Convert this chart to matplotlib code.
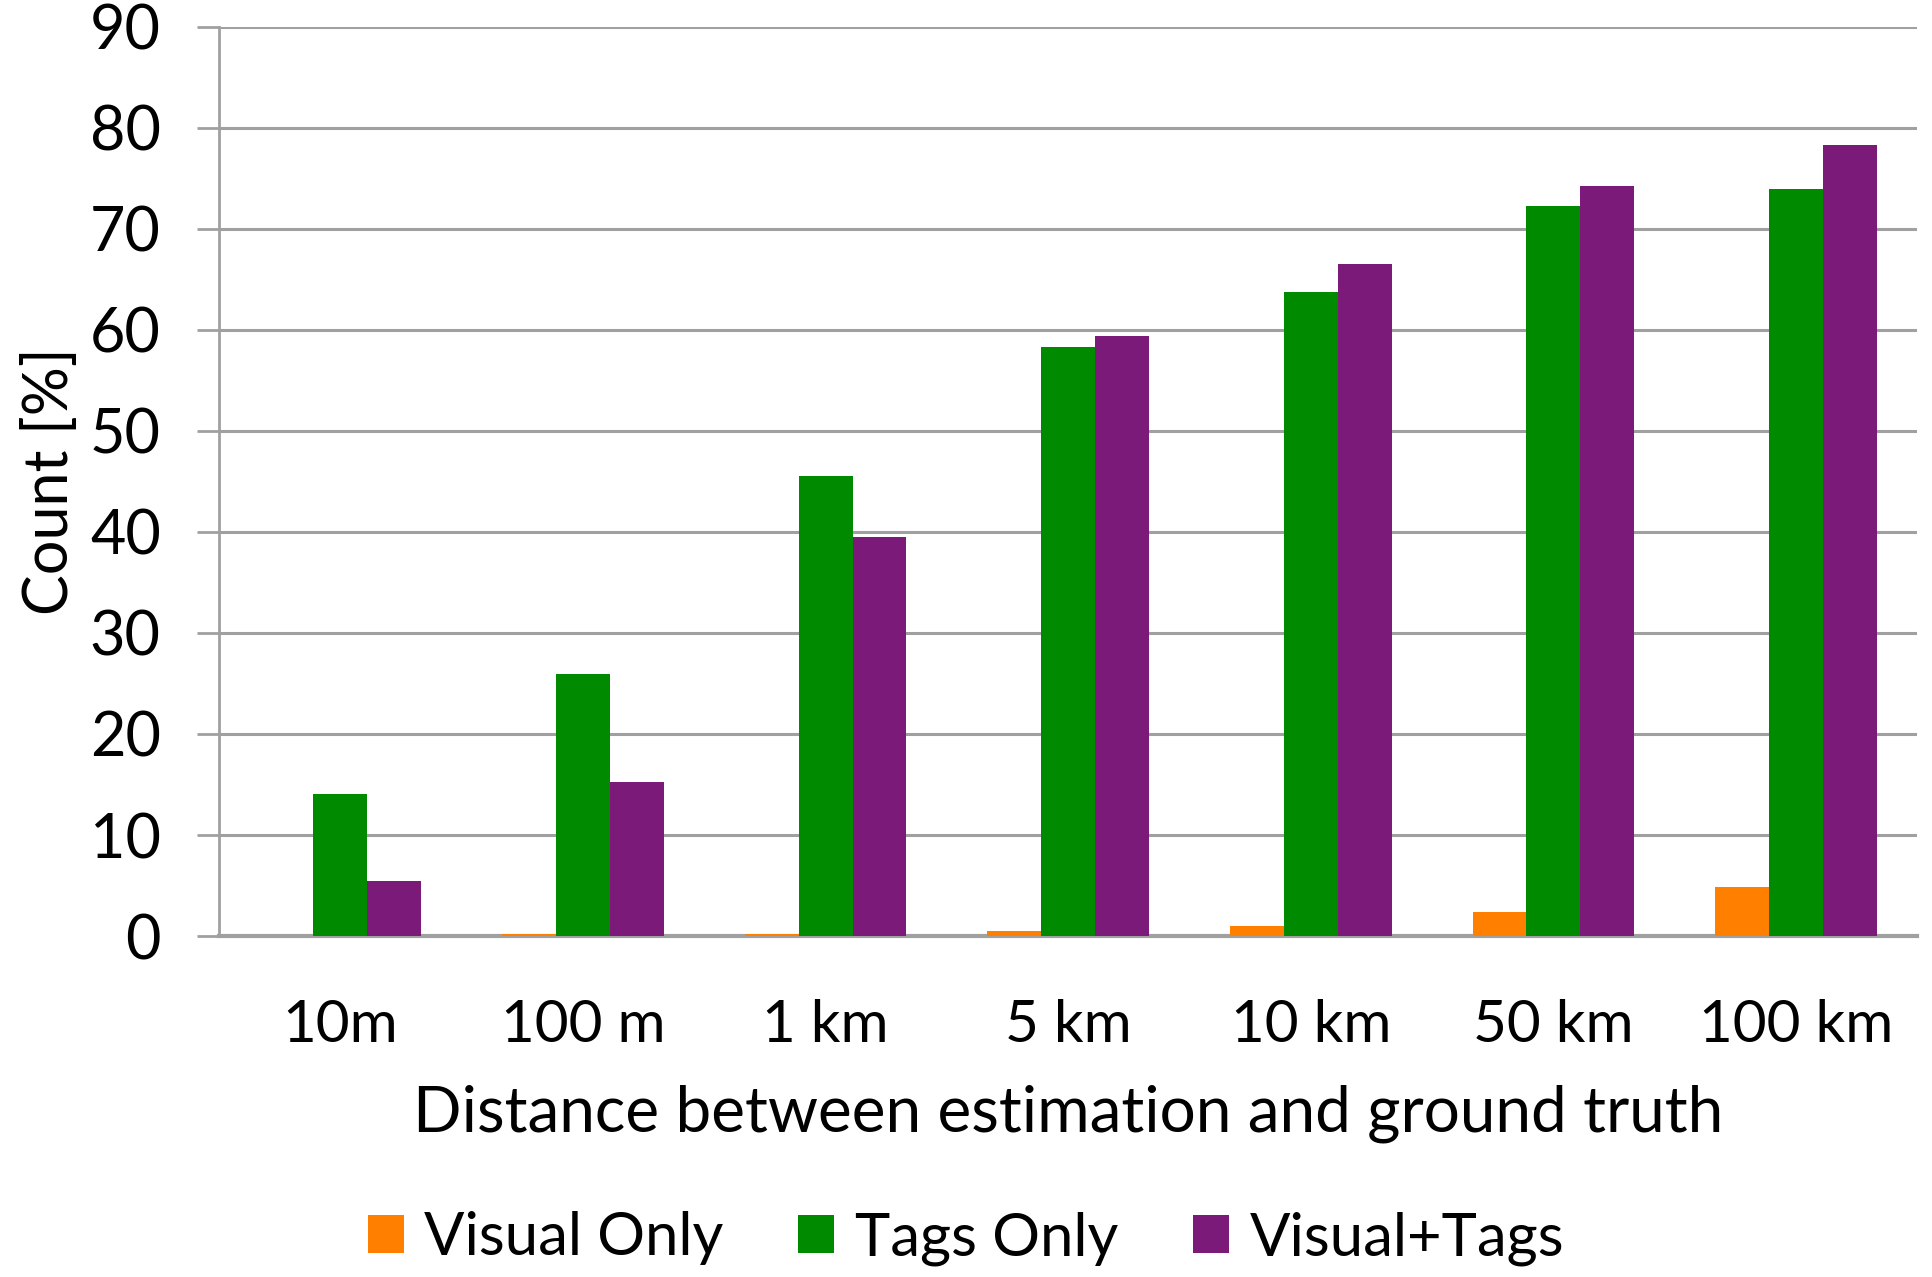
import matplotlib
matplotlib.use("Agg")
import matplotlib.pyplot as plt
import numpy as np
from matplotlib.patches import Patch

categories = ["10m", "100 m", "1 km", "5 km", "10 km", "50 km", "100 km"]
visual_only = [0.0, 0.2, 0.2, 0.45, 1.0, 2.4, 4.9]
tags_only = [14.1, 25.9, 45.5, 58.3, 63.8, 72.3, 73.9]
visual_tags = [5.4, 15.2, 39.5, 59.4, 66.5, 74.2, 78.3]

series = ["Visual Only", "Tags Only", "Visual+Tags"]
colors = ["#FF8000", "#008A00", "#7B1A78"]

plt.rcParams["font.family"] = ["Lato", "DejaVu Sans"]
FS = 42
GRID = "#A0A0A0"

fig = plt.figure(figsize=(19.32, 12.77), dpi=100)
ax = fig.add_axes([0.1134, 0.267, 0.879, 0.712])

x = np.arange(len(categories))
w = 0.222
for i, vals in enumerate([visual_only, tags_only, visual_tags]):
    ax.bar(x + (i - 1) * w, vals, width=w, color=colors[i], zorder=3)

ax.set_xlim(-0.5, len(categories) - 0.5)
ax.set_ylim(0, 90)
ax.set_yticks(range(0, 91, 10))
ax.set_xticks(x)
ax.set_xticklabels(categories, fontsize=FS)
ax.tick_params(axis="y", labelsize=44, length=16, width=2, color=GRID, pad=26)
ax.tick_params(axis="x", length=0, pad=45)
ax.grid(axis="y", color=GRID, linewidth=2.2, zorder=0)

for s in ["top", "right"]:
    ax.spines[s].set_visible(False)
ax.spines["left"].set_color(GRID)
ax.spines["left"].set_linewidth(2)
ax.spines["bottom"].set_color(GRID)
ax.spines["bottom"].set_linewidth(3)

ax.set_ylabel("Count [%]", fontsize=44, labelpad=8)
ax.set_xlabel("Distance between estimation and ground truth", fontsize=46, labelpad=24)

handles = [Patch(facecolor=c) for c in colors]
fig.legend(handles, series, loc="center", bbox_to_anchor=(0.5, 0.03), ncol=3,
           frameon=False, fontsize=43, handlelength=0.6, handleheight=0.6,
           handletextpad=0.35, columnspacing=1.25)

fig.savefig("out.png", dpi=100)
